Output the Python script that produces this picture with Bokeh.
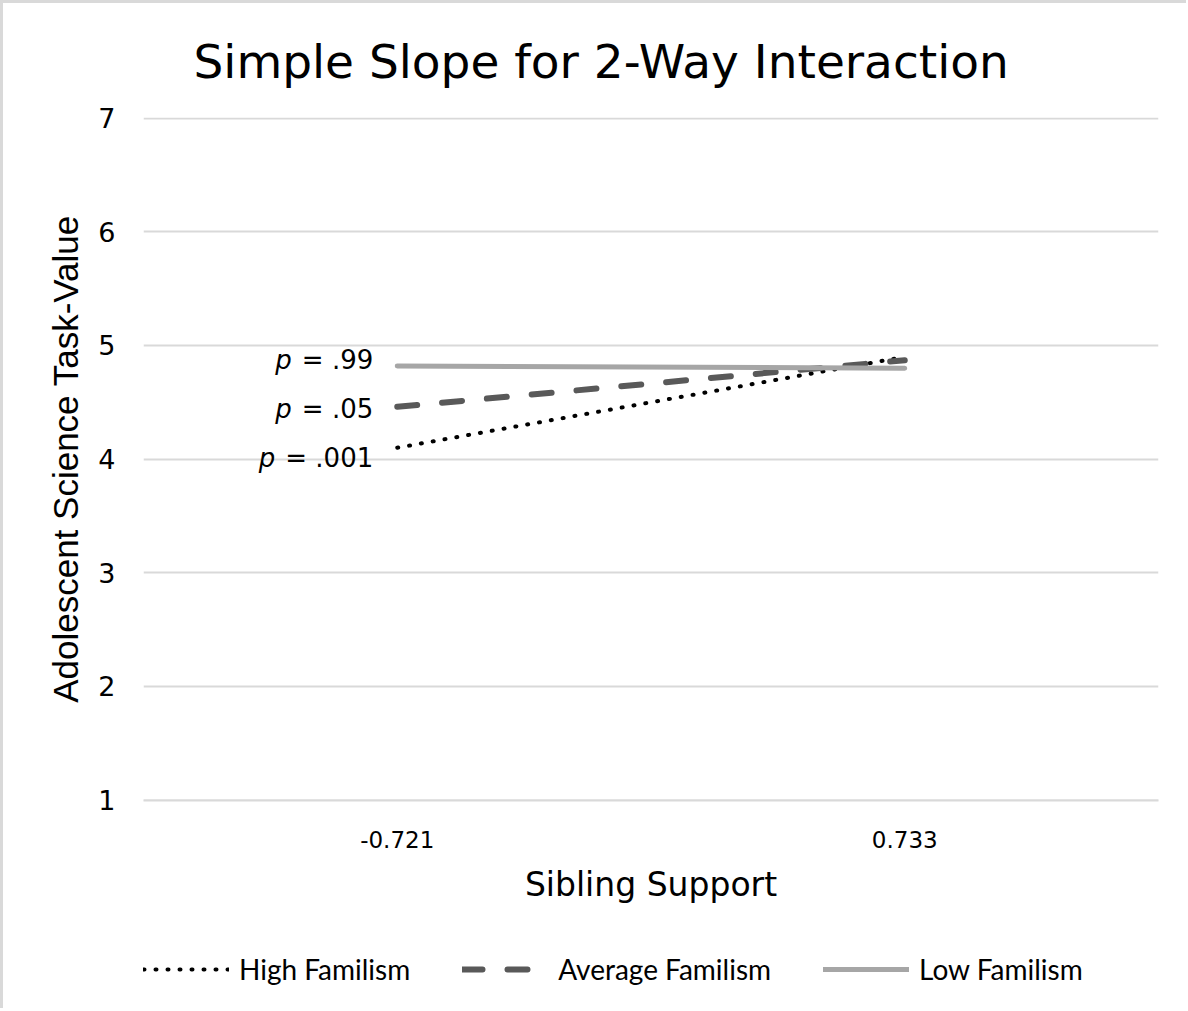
from bokeh.plotting import figure
from bokeh.layouts import column
from bokeh.models import (ColumnDataSource, FactorRange, Range1d, FixedTicker,
                          Legend, LegendItem)
from bokeh.core.properties import value
from bokeh.embed import file_html
from bokeh.resources import INLINE

# ---- data ----
categories = ["-0.721", "0.733"]
high_familism = [4.10, 4.90]
average_familism = [4.46, 4.87]
low_familism = [4.82, 4.80]
y_ticks = [1, 2, 3, 4, 5, 6, 7]
series_names = ["High Familism", "Average Familism", "Low Familism"]
p_labels = ["= .99", "= .05", "= .001"]
p_label_y = [4.87, 4.44, 4.01]

title = "Simple Slope for 2-Way Interaction"
x_label = "Sibling Support"
y_label = "Adolescent Science Task-Value"

styles = [dict(line_color="#000000", line_width=4, line_dash="1 11", line_cap="round"),
          dict(line_color="#595959", line_width=6, line_dash="20 25", line_cap="round"),
          dict(line_color="#a6a6a6", line_width=5, line_cap="round")]
series = [high_familism, average_familism, low_familism]

p = figure(width=1183, height=909, output_backend="svg", toolbar_location=None,
           x_range=FactorRange(factors=categories), y_range=Range1d(0.996, 7.006),
           title=title, min_border_left=140, min_border_right=28,
           min_border_top=114, min_border_bottom=112)

p.title.text_font = "DejaVu Sans"
p.title.text_font_size = "47px"
p.title.text_font_style = "normal"
p.title.text_color = "#000000"
p.title.align = "left"
p.title.offset = 50
p.title.standoff = 57

p.outline_line_color = None
p.xgrid.grid_line_color = None
p.ygrid.grid_line_color = "#d9d9d9"
p.ygrid.grid_line_width = 2

p.yaxis.ticker = FixedTicker(ticks=y_ticks)
p.yaxis.axis_line_color = None
p.yaxis.major_tick_line_color = None
p.yaxis.minor_tick_line_color = None
p.yaxis.major_label_text_font = "DejaVu Sans"
p.yaxis.major_label_text_font_size = "27px"
p.yaxis.major_label_text_color = "#000000"
p.yaxis.major_label_standoff = 22
p.yaxis.axis_label = y_label
p.yaxis.axis_label_text_font = "Liberation Sans"
p.yaxis.axis_label_text_font_size = "35px"
p.yaxis.axis_label_text_font_style = "normal"
p.yaxis.axis_label_text_color = "#000000"
p.yaxis.axis_label_standoff = 10

p.xaxis.axis_line_color = "#d9d9d9"
p.xaxis.axis_line_width = 2
p.xaxis.major_tick_line_color = None
p.xaxis.minor_tick_line_color = None
p.xaxis.major_label_text_font = "DejaVu Sans"
p.xaxis.major_label_text_font_size = "23px"
p.xaxis.major_label_text_color = "#000000"
p.xaxis.major_label_standoff = 24
p.xaxis.axis_label = x_label
p.xaxis.axis_label_text_font = "DejaVu Sans"
p.xaxis.axis_label_text_font_size = "33px"
p.xaxis.axis_label_text_font_style = "normal"
p.xaxis.axis_label_text_color = "#000000"
p.xaxis.axis_label_standoff = 14

for vals, st in zip(series, styles):
    p.line(x=categories, y=vals, **st)

# p-value annotations (value part right-aligned, italic p placed before it)
char_w = {"=": 0.838, " ": 0.318, ".": 0.318}
fs = 26
widths = [sum(char_w.get(c, 0.636) for c in s) * fs for s in p_labels]
ann = ColumnDataSource(dict(
    x=[categories[0]] * len(p_labels), y=p_label_y, text=p_labels,
    px=[-24 - w - 10 for w in widths], pt=["p"] * len(p_labels)))
p.text(x="x", y="y", text="text", source=ann, x_offset=-24, text_align="right",
       text_baseline="middle", text_font=value("DejaVu Sans"),
       text_font_size=f"{fs}px", text_color="#000000")
p.text(x="x", y="y", text="pt", source=ann, x_offset="px", text_align="right",
       text_baseline="middle", text_font=value("DejaVu Sans"),
       text_font_size=f"{fs}px", text_font_style="italic", text_color="#000000")

# legend strip below the chart (its lines lie outside its visible y range)
lg = figure(width=1183, height=96, output_backend="svg", toolbar_location=None,
            x_range=FactorRange(factors=categories), y_range=Range1d(100, 101),
            x_axis_location=None, y_axis_location=None,
            min_border=0, min_border_left=0, min_border_right=0,
            min_border_top=0, min_border_bottom=0)
lg.grid.visible = False
lg.outline_line_color = None
items = []
for name, vals, st in zip(series_names, series, styles):
    r = lg.line(x=categories, y=vals, **st)
    items.append(LegendItem(label=name, renderers=[r]))
legend = Legend(items=items, orientation="horizontal", location=(0, 22),
                glyph_width=86, glyph_height=20, label_standoff=10, spacing=52,
                label_text_font="Lato", label_text_font_size="28px",
                label_text_color="#000000", border_line_color=None,
                background_fill_alpha=0, padding=0, margin=0)
lg.add_layout(legend, "center")

layout = column(p, lg, styles={"border-left": "3px solid #d9d9d9",
                               "border-top": "3px solid #d9d9d9"})
open("out.html", "w").write(file_html(layout, INLINE))
